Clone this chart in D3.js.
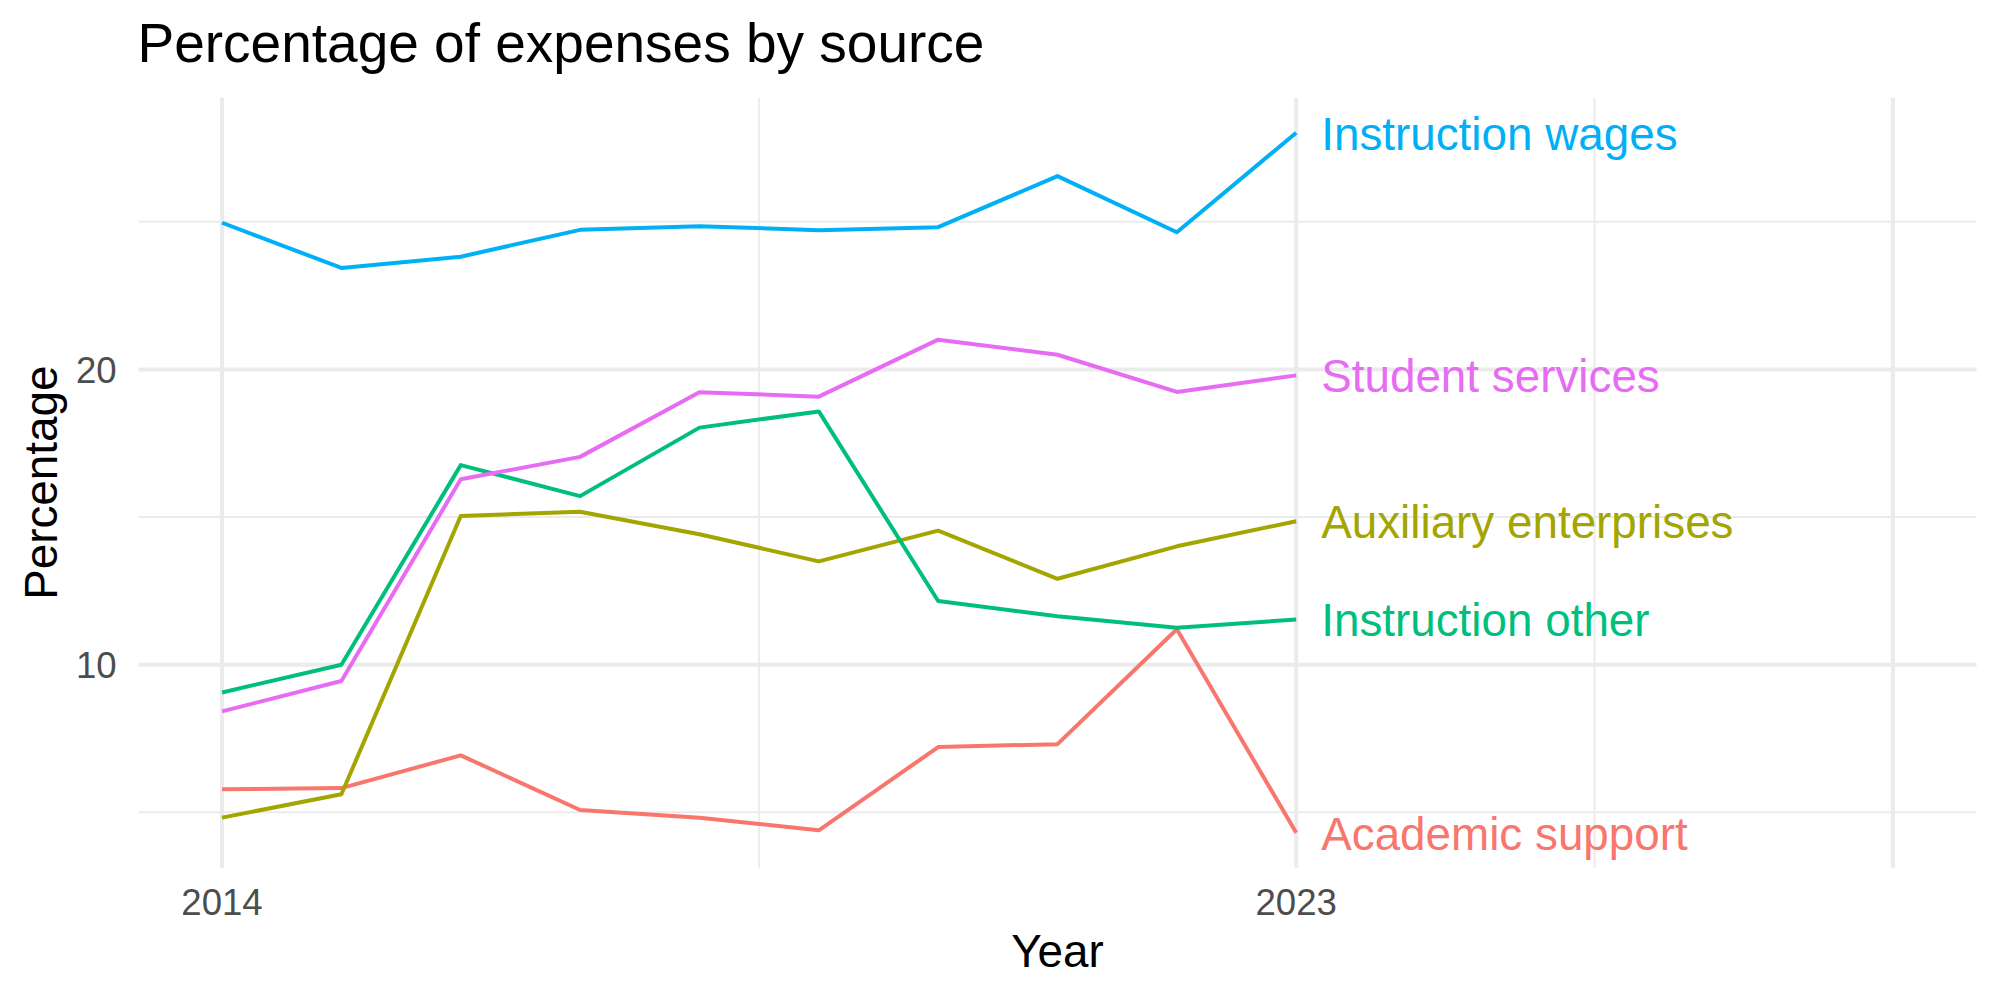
<!DOCTYPE html>
<html>
<head>
<meta charset="utf-8">
<script src="https://cdn.jsdelivr.net/npm/d3@7"></script>
<style>
  body { margin: 0; background: #fff; }
  text { font-family: "Liberation Sans", Arial, Helvetica, sans-serif; }
</style>
</head>
<body>
<svg id="chart" width="2000" height="1000" viewBox="0 0 2000 1000"></svg>
<script>
// data
const years = [2014, 2015, 2016, 2017, 2018, 2019, 2020, 2021, 2022, 2023]
const academicSupport = [5.78, 5.82, 6.93, 5.08, 4.82, 4.39, 7.21, 7.31, 11.20, 4.31]
const auxiliaryEnterprises = [4.82, 5.61, 15.04, 15.18, 14.42, 13.50, 14.54, 12.91, 14.01, 14.86]
const instructionOther = [9.06, 10.00, 16.76, 15.71, 18.03, 18.58, 12.16, 11.64, 11.25, 11.53]
const instructionWages = [24.97, 23.44, 23.82, 24.73, 24.85, 24.72, 24.82, 26.55, 24.65, 28.02]
const studentServices = [8.42, 9.45, 16.28, 17.04, 19.23, 19.08, 21.01, 20.50, 19.24, 19.80]

const sourceNames = ["Academic support", "Auxiliary enterprises", "Instruction other", "Instruction wages", "Student services"]
const sourceColors = ["#F8766D", "#A3A500", "#00BF7D", "#00B0F6", "#E76BF3"]

const xLimits = [2014, 2028]
const xMajor = [2014, 2023, 2028]
const xMinor = [2018.5, 2025.5]
const xLabels = [2014, 2023]
const yMajor = [10, 20]
const yMinor = [5, 15, 25]

const series = sourceNames.map((name, i) => ({
    name: name,
    color: sourceColors[i],
    values: [academicSupport, auxiliaryEnterprises, instructionOther, instructionWages, studentServices][i]
        .map((v, j) => ({year: years[j], value: v}))
}))

const svg = d3.select("#chart")
const panel = {left: 138.5, right: 1976.5, top: 97.7, bottom: 867.7}

// ggplot style 5% expansion
const expand = (lo, hi) => { const r = hi - lo; return [lo - r * 0.05, hi + r * 0.05] }
const allValues = series.flatMap(s => s.values.map(d => d.value))

const x = d3.scaleLinear().domain(expand(xLimits[0], xLimits[1])).range([panel.left, panel.right])
const y = d3.scaleLinear().domain(expand(d3.min(allValues), d3.max(allValues))).range([panel.bottom, panel.top])

const grid = svg.append("g")
grid.selectAll(".vminor").data(xMinor).enter().append("line")
    .attr("x1", d => x(d)).attr("x2", d => x(d))
    .attr("y1", panel.top).attr("y2", panel.bottom)
    .attr("stroke", "#EBEBEB").attr("stroke-width", 2)
grid.selectAll(".hminor").data(yMinor).enter().append("line")
    .attr("x1", panel.left).attr("x2", panel.right)
    .attr("y1", d => y(d)).attr("y2", d => y(d))
    .attr("stroke", "#EBEBEB").attr("stroke-width", 2)
grid.selectAll(".vmajor").data(xMajor).enter().append("line")
    .attr("x1", d => x(d)).attr("x2", d => x(d))
    .attr("y1", panel.top).attr("y2", panel.bottom)
    .attr("stroke", "#EBEBEB").attr("stroke-width", 4)
grid.selectAll(".hmajor").data(yMajor).enter().append("line")
    .attr("x1", panel.left).attr("x2", panel.right)
    .attr("y1", d => y(d)).attr("y2", d => y(d))
    .attr("stroke", "#EBEBEB").attr("stroke-width", 4)

// lines
const line = d3.line().x(d => x(d.year)).y(d => y(d.value))
svg.append("g").selectAll("path")
    .data(series)
    .enter()
    .append("path")
    .attr("d", d => line(d.values))
    .attr("fill", "none")
    .attr("stroke", d => d.color)
    .attr("stroke-width", 4)
    .attr("stroke-linejoin", "round")

// end labels
svg.append("g").selectAll("text")
    .data(series)
    .enter()
    .append("text")
    .attr("x", d => x(d.values[d.values.length - 1].year) + 25)
    .attr("y", d => y(d.values[d.values.length - 1].value) + 16.8)
    .attr("fill", d => d.color)
    .attr("font-size", 45.8)
    .text(d => d.name)

// axes text
svg.append("g").selectAll("text")
    .data(xLabels)
    .enter()
    .append("text")
    .attr("x", d => x(d))
    .attr("y", 915)
    .attr("text-anchor", "middle")
    .attr("font-size", 36.6)
    .attr("fill", "#4D4D4D")
    .text(d => d)

svg.append("g").selectAll("text")
    .data(yMajor)
    .enter()
    .append("text")
    .attr("x", 116.7)
    .attr("y", d => y(d) + 13.1)
    .attr("text-anchor", "end")
    .attr("font-size", 36.6)
    .attr("fill", "#4D4D4D")
    .text(d => d)

svg.append("text")
    .attr("x", (panel.left + panel.right) / 2)
    .attr("y", 966.7)
    .attr("text-anchor", "middle")
    .attr("font-size", 45.8)
    .text("Year")

svg.append("text")
    .attr("transform", `translate(56.7,${(panel.top + panel.bottom) / 2}) rotate(-90)`)
    .attr("text-anchor", "middle")
    .attr("font-size", 45.8)
    .text("Percentage")

svg.append("text")
    .attr("x", 137.5)
    .attr("y", 61.7)
    .attr("font-size", 55)
    .text("Percentage of expenses by source")
</script>
</body>
</html>
